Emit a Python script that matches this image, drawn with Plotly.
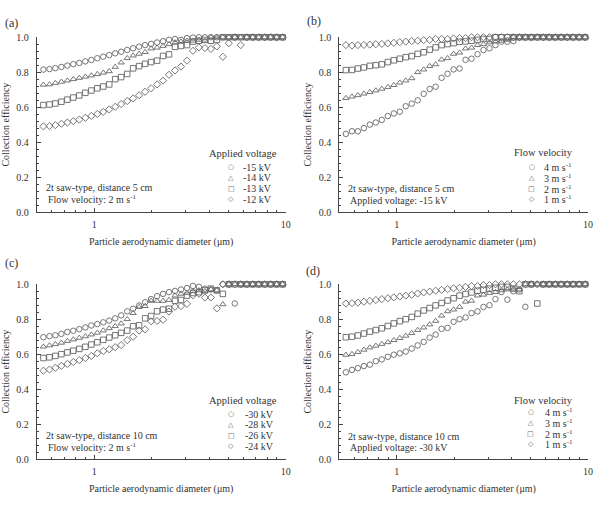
import plotly.graph_objects as go

# ---------------- data ----------------
diam = [0.542, 0.583, 0.626, 0.673, 0.723, 0.777, 0.835, 0.898, 0.965, 1.037,
        1.114, 1.197, 1.286, 1.382, 1.486, 1.596, 1.715, 1.843, 1.981, 2.129,
        2.288, 2.458, 2.642, 2.839, 3.051, 3.278, 3.523, 3.786, 4.068, 4.371,
        4.698, 5.048, 5.425, 5.829, 6.264, 6.732, 7.234, 7.774, 8.354, 8.977, 9.647]

# panel (a): applied voltage, 5 cm, 2 m/s
a_m15 = [0.815, 0.818, 0.823, 0.830, 0.838, 0.846, 0.853, 0.862, 0.870, 0.880,
         0.889, 0.898, 0.908, 0.917, 0.927, 0.937, 0.946, 0.955, 0.962, 0.970,
         0.977, 0.985, 0.990, 0.985, 0.995, 0.998, 1.0, 1.0, 1.0, 1.0,
         1.0, 1.0, 1.0, 1.0, 1.0, 1.0, 1.0, 1.0, 1.0, 1.0, 1.0]
a_m14 = [0.728, 0.730, 0.738, 0.745, 0.752, 0.760, 0.767, 0.774, 0.781, 0.789,
         0.797, 0.805, 0.830, 0.855, 0.880, 0.895, 0.905, 0.915, 0.935, 0.940,
         0.950, 0.960, 0.970, 0.975, 0.980, 0.980, 0.985, 0.980, 1.0, 1.0,
         1.0, 1.0, 1.0, 1.0, 1.0, 1.0, 1.0, 1.0, 1.0, 1.0, 1.0]
a_m13 = [0.612, 0.615, 0.621, 0.631, 0.643, 0.655, 0.667, 0.682, 0.695, 0.708,
         0.718, 0.730, 0.760, 0.772, 0.790, 0.822, 0.835, 0.848, 0.858, 0.866,
         0.893, 0.902, 0.945, 0.950, 0.955, 0.975, 0.980, 0.985, 0.980, 0.985,
         1.0, 1.0, 1.0, 1.0, 1.0, 1.0, 1.0, 1.0, 1.0, 1.0, 1.0]
a_m12 = [0.490, 0.492, 0.497, 0.505, 0.512, 0.520, 0.529, 0.539, 0.550, 0.561,
         0.573, 0.587, 0.602, 0.618, 0.635, 0.650, 0.668, 0.688, 0.708, 0.730,
         0.752, 0.785, 0.810, 0.832, 0.866, 0.922, 0.942, 0.938, 0.933, 0.948,
         0.888, 0.966, 1.0, 0.955, 1.0, 1.0, 1.0, 1.0, 1.0, 1.0, 1.0]

# panel (b): flow velocity, 5 cm, -15 kV
b_4 = [0.447, 0.462, 0.462, 0.480, 0.500, 0.512, 0.527, 0.549, 0.564, 0.574,
       0.605, 0.620, 0.639, 0.676, 0.704, 0.717, 0.768, 0.791, 0.816, 0.821,
       0.871, 0.877, 0.903, 0.927, 0.937, 0.955, 0.975, 0.974, 0.978, 1.0,
       1.0, 1.0, 1.0, 1.0, 1.0, 1.0, 1.0, 1.0, 1.0, 1.0, 1.0]
b_3 = [0.652, 0.660, 0.668, 0.677, 0.686, 0.695, 0.705, 0.715, 0.726, 0.740,
       0.752, 0.765, 0.800, 0.815, 0.835, 0.845, 0.872, 0.880, 0.905, 0.912,
       0.935, 0.940, 0.955, 0.960, 0.970, 0.975, 0.980, 0.985, 1.0, 1.0,
       1.0, 1.0, 1.0, 1.0, 1.0, 1.0, 1.0, 1.0, 1.0, 1.0, 1.0]
b_2 = [0.812, 0.813, 0.821, 0.827, 0.836, 0.840, 0.845, 0.858, 0.868, 0.877,
       0.886, 0.892, 0.905, 0.914, 0.929, 0.942, 0.955, 0.961, 0.966, 0.974,
       0.976, 0.980, 0.985, 0.990, 0.990, 1.0, 1.0, 1.0, 1.0, 1.0,
       1.0, 1.0, 1.0, 1.0, 1.0, 1.0, 1.0, 1.0, 1.0, 1.0, 1.0]
b_1 = [0.955, 0.952, 0.955, 0.956, 0.958, 0.960, 0.962, 0.965, 0.968, 0.972,
       0.975, 0.978, 0.980, 0.983, 0.985, 0.990, 0.990, 0.990, 0.993, 0.995,
       0.995, 1.0, 1.0, 1.0, 1.0, 1.0, 1.0, 1.0, 1.0, 1.0,
       1.0, 1.0, 1.0, 1.0, 1.0, 1.0, 1.0, 1.0, 1.0, 1.0, 1.0]

# panel (c): applied voltage, 10 cm, 2 m/s
c_m30 = [0.697, 0.703, 0.708, 0.716, 0.727, 0.734, 0.743, 0.753, 0.764, 0.772,
         0.782, 0.792, 0.805, 0.822, 0.845, 0.860, 0.878, 0.897, 0.915, 0.932,
         0.945, 0.955, 0.962, 0.970, 0.978, 0.990, 0.985, 0.975, 0.970, 0.965,
         1.0, 1.0, 0.890, 1.0, 1.0, 1.0, 1.0, 1.0, 1.0, 1.0, 1.0]
c_m28 = [0.643, 0.650, 0.657, 0.665, 0.675, 0.684, 0.693, 0.702, 0.712, 0.722,
         0.735, 0.748, 0.760, 0.775, 0.800, 0.835, 0.870, 0.875, 0.905, 0.905,
         0.905, 0.910, 0.935, 0.945, 0.950, 0.960, 0.965, 0.960, 0.970, 0.965,
         0.885, 1.0, 1.0, 1.0, 1.0, 1.0, 1.0, 1.0, 1.0, 1.0, 1.0]
c_m26 = [0.578, 0.582, 0.590, 0.600, 0.610, 0.620, 0.630, 0.642, 0.655, 0.668,
         0.682, 0.695, 0.708, 0.722, 0.735, 0.760, 0.765, 0.805, 0.818, 0.845,
         0.855, 0.860, 0.905, 0.910, 0.935, 0.950, 0.955, 0.965, 0.975, 0.965,
         0.945, 1.0, 1.0, 1.0, 1.0, 1.0, 1.0, 1.0, 1.0, 1.0, 1.0]
c_m24 = [0.505, 0.512, 0.522, 0.533, 0.544, 0.555, 0.566, 0.578, 0.590, 0.605,
         0.618, 0.628, 0.640, 0.652, 0.680, 0.700, 0.735, 0.742, 0.788, 0.790,
         0.797, 0.844, 0.871, 0.875, 0.888, 0.937, 0.946, 0.924, 0.924, 0.862,
         1.0, 1.0, 1.0, 1.0, 1.0, 1.0, 1.0, 1.0, 1.0, 1.0, 1.0]

# panel (d): flow velocity, 10 cm, -30 kV
d_4 = [0.496, 0.510, 0.520, 0.532, 0.540, 0.560, 0.570, 0.585, 0.597, 0.605,
       0.615, 0.632, 0.650, 0.670, 0.695, 0.712, 0.745, 0.750, 0.785, 0.800,
       0.810, 0.835, 0.845, 0.870, 0.880, 0.915, 0.955, 0.912, 0.960, 0.970,
       0.871, 1.0, 1.0, 1.0, 1.0, 1.0, 1.0, 1.0, 1.0, 1.0, 1.0]
d_3 = [0.596, 0.600, 0.612, 0.625, 0.638, 0.648, 0.658, 0.668, 0.680, 0.692,
       0.705, 0.720, 0.738, 0.752, 0.770, 0.790, 0.820, 0.845, 0.855, 0.870,
       0.900, 0.905, 0.935, 0.940, 0.950, 0.955, 0.965, 0.970, 0.975, 0.970,
       1.0, 1.0, 1.0, 1.0, 1.0, 1.0, 1.0, 1.0, 1.0, 1.0, 1.0]
d_2 = [0.697, 0.700, 0.707, 0.718, 0.729, 0.738, 0.748, 0.761, 0.776, 0.789,
       0.800, 0.813, 0.832, 0.850, 0.864, 0.879, 0.893, 0.907, 0.920, 0.935,
       0.944, 0.953, 0.963, 0.968, 0.975, 0.980, 0.985, 0.985, 0.975, 0.960,
       1.0, 1.0, 0.890, 1.0, 1.0, 1.0, 1.0, 1.0, 1.0, 1.0, 1.0]
d_1 = [0.890, 0.892, 0.895, 0.900, 0.905, 0.910, 0.915, 0.920, 0.925, 0.930,
       0.935, 0.940, 0.947, 0.953, 0.958, 0.963, 0.968, 0.972, 0.977, 0.980,
       0.985, 0.990, 0.990, 0.995, 0.995, 1.0, 1.0, 1.0, 1.0, 1.0,
       1.0, 1.0, 1.0, 1.0, 1.0, 1.0, 1.0, 1.0, 1.0, 1.0, 1.0]

voltage_labels_a = ["-15 kV", "-14 kV", "-13 kV", "-12 kV"]
voltage_labels_c = ["-30 kV", "-28 kV", "-26 kV", "-24 kV"]
velocity_labels = ["4 m s<sup>-1</sup>", "3 m s<sup>-1</sup>",
                   "2 m s<sup>-1</sup>", "1 m s<sup>-1</sup>"]
x_ticks = [1, 10]
x_minor = [0.5, 0.6, 0.7, 0.8, 0.9, 2, 3, 4, 5, 6, 7, 8, 9]

# ---------------- styling / layout ----------------
W, H = 607, 507
FONT = "Liberation Serif, Times New Roman, serif"
TXT = "#333333"
AX = "#444444"
MK = "#666666"
symbols = ["circle-open", "triangle-up-open", "square-open", "diamond-open"]
glyphs = ["\u25CB", "\u25B3", "\u25A1", "\u25C7"]

# plot areas in pixels: (left, right, top, bottom)
boxes = {
    "a": (37, 288, 32, 211),
    "b": (342, 593, 32, 211),
    "c": (37, 288, 285, 464),
    "d": (342, 593, 285, 464),
}

panels = [
    ("a", [a_m15, a_m14, a_m13, a_m12], voltage_labels_a, "Applied voltage",
     ["2t saw-type, distance 5 cm", "Flow velocity: 2 m s<sup>-1</sup>"]),
    ("b", [b_4, b_3, b_2, b_1], velocity_labels, "Flow velocity",
     ["2t saw-type, distance 5 cm", "Applied voltage: -15 kV"]),
    ("c", [c_m30, c_m28, c_m26, c_m24], voltage_labels_c, "Applied voltage",
     ["2t saw-type, distance 10 cm", "Flow velocity: 2 m s<sup>-1</sup>"]),
    ("d", [d_4, d_3, d_2, d_1], velocity_labels, "Flow velocity",
     ["2t saw-type, distance 10 cm", "Applied voltage: -30 kV"]),
]

# legend / annotation pixel anchors per panel
legend_pos = {
    # title x-center, title y, glyph x, label x, row ys
    "a": (245, 151, 233, 243, [165, 176, 187, 198]),
    "b": (548, 150, 536, 547, [165, 176, 187, 198]),
    "c": (245, 404, 233, 245, [418, 429, 440, 451]),
    "d": (548, 404, 535, 548, [416, 427, 438, 449]),
}
note_pos = {
    "a": (44, 186, 198),
    "b": (349, 187, 199),
    "c": (44, 440, 452),
    "d": (349, 441, 452),
}
label_pos = {"a": (3, 17), "b": (308, 15), "c": (3, 263), "d": (307, 271)}

fig = go.Figure()
annotations = []


def px(x):
    return x / W


def py(y):
    return 1 - y / H


for idx, (key, series, labels, ltitle, notes) in enumerate(panels):
    n = "" if idx == 0 else str(idx + 1)
    for s, ys in enumerate(series):
        fig.add_trace(go.Scatter(
            x=diam, y=ys, mode="markers", name=labels[s], showlegend=False,
            cliponaxis=False,
            marker=dict(symbol=symbols[s], size=5.5, color=MK,
                        line=dict(width=0.9, color=MK)),
            xaxis="x" + n, yaxis="y" + n,
        ))
    l, r, t, b = boxes[key]
    fig.update_layout(**{
        "xaxis" + n: dict(
            domain=[px(l), px(r)], anchor="y" + n, type="log",
            range=[-0.30103, 1.0], tickmode="array", tickvals=x_ticks,
            ticktext=[str(v) for v in x_ticks],
            ticks="inside", ticklen=4, tickcolor=AX, tickwidth=1,
            showline=True, linecolor=AX, linewidth=1, mirror=False,
            showgrid=False, zeroline=False, ticklabelstandoff=3,
            tickfont=dict(family=FONT, size=10, color=TXT),
            minor=dict(tickmode="array", tickvals=x_minor, ticks="inside",
                       ticklen=2.5, tickcolor=AX, showgrid=False),
            title=dict(text="Particle aerodynamic diameter (\u03bcm)",
                       font=dict(family=FONT, size=10, color=TXT), standoff=8),
        ),
        "yaxis" + n: dict(
            domain=[py(b), py(t)], anchor="x" + n, range=[0, 1],
            dtick=0.2, tickformat=".1f",
            ticks="inside", ticklen=4, tickcolor=AX, tickwidth=1,
            showline=True, linecolor=AX, linewidth=1, mirror=False,
            showgrid=False, zeroline=False, ticklabelstandoff=5,
            tickfont=dict(family=FONT, size=10, color=TXT),
            minor=dict(dtick=0.04, ticks="inside", ticklen=2, tickcolor=AX,
                       showgrid=False),
            title=dict(text="Collection efficiency",
                       font=dict(family=FONT, size=10, color=TXT), standoff=5),
        ),
    })

    # legend built from text
    tx, ty, gx, lx, rows = legend_pos[key]
    annotations.append(dict(text=ltitle, x=px(tx), y=py(ty), xref="paper",
                            yref="paper", xanchor="center", yanchor="middle",
                            showarrow=False,
                            font=dict(family=FONT, size=10.5, color=TXT)))
    for s in range(4):
        annotations.append(dict(text=glyphs[s], x=px(gx), y=py(rows[s]),
                                xref="paper", yref="paper", xanchor="center",
                                yanchor="middle", showarrow=False,
                                font=dict(family="DejaVu Sans", size=7, color=MK)))
        annotations.append(dict(text=labels[s], x=px(lx), y=py(rows[s]),
                                xref="paper", yref="paper", xanchor="left",
                                yanchor="middle", showarrow=False,
                                font=dict(family=FONT, size=10, color=TXT)))
    nx, ny1, ny2 = note_pos[key]
    annotations.append(dict(text=notes[0], x=px(nx), y=py(ny1), xref="paper",
                            yref="paper", xanchor="left", yanchor="middle",
                            showarrow=False,
                            font=dict(family=FONT, size=10, color=TXT)))
    annotations.append(dict(text=notes[1], x=px(nx + 2), y=py(ny2), xref="paper",
                            yref="paper", xanchor="left", yanchor="middle",
                            showarrow=False,
                            font=dict(family=FONT, size=10, color=TXT)))
    lbx, lby = label_pos[key]
    annotations.append(dict(text="(" + key + ")", x=px(lbx), y=py(lby),
                            xref="paper", yref="paper", xanchor="left",
                            yanchor="middle", showarrow=False,
                            font=dict(family=FONT, size=12, color=TXT)))

fig.update_layout(
    width=W, height=H, margin=dict(l=0, r=0, t=0, b=0),
    paper_bgcolor="white", plot_bgcolor="white",
    showlegend=False, annotations=annotations,
    font=dict(family=FONT, size=10, color=TXT),
)

fig.write_html("out.html")
